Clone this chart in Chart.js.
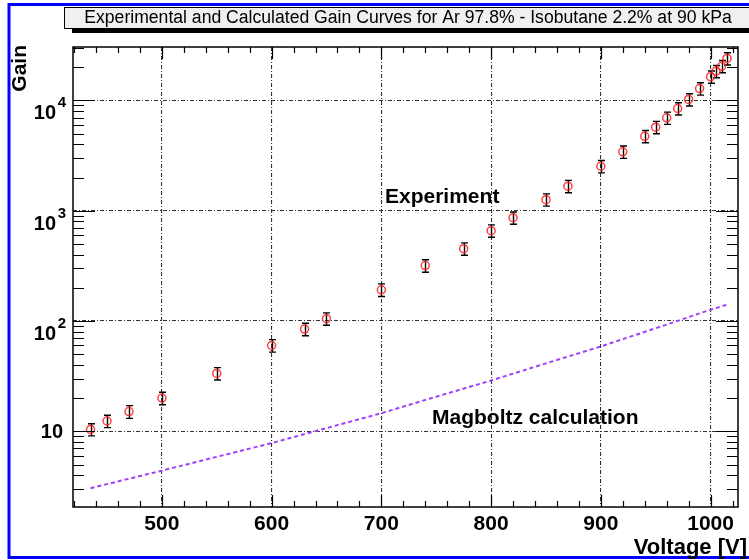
<!DOCTYPE html>
<html>
<head>
<meta charset="utf-8">
<script src="https://cdn.jsdelivr.net/npm/chart.js@4.4.1/dist/chart.umd.min.js"></script>
<style>
  html, body { margin: 0; padding: 0; background: #fff; }
  #wrap { width: 749px; height: 560px; position: relative; }
</style>
</head>
<body>
<div id="wrap"><canvas id="c" width="749" height="560"></canvas></div>
<script>
// Measured gain vs. voltage (Ar 97.8% / isobutane 2.2%, 90 kPa)
const voltages = [435, 450, 470, 500, 550, 600, 630, 650, 700, 740, 775, 800, 820, 850, 870,
                  900, 920, 940, 950, 960, 970, 980, 990, 1000, 1005, 1010, 1015];
const gains = [10.4, 12.4, 15.1, 20.0, 33.5, 60, 84.5, 105, 192, 318, 453, 659, 865, 1260, 1670,
               2530, 3420, 4730, 5720, 6950, 8450, 10200, 12800, 16400, 18400, 20400, 24000];
const gainErrors = [1.3, 1.6, 2.0, 2.6, 4.3, 7.8, 11, 13.5, 25, 41, 58, 85, 110, 160, 215,
                    325, 440, 600, 730, 890, 1080, 1300, 1640, 2100, 2350, 2600, 3050];

// Magboltz simulation
const magVoltages = [435, 450, 500, 550, 600, 650, 700, 750, 800, 850, 900, 950, 1000, 1015];
const magGains = [3.05, 3.32, 4.40, 5.87, 7.82, 10.7, 14.6, 20.6, 28.9, 41.3, 58.8, 86.0, 126.6, 140.6];

// Axis ticks
const xTickValues = [500, 600, 700, 800, 900, 1000];
const yExponents = [1, 2, 3, 4];

const titleText = 'Experimental and Calculated Gain Curves for Ar 97.8% - Isobutane 2.2% at 90 kPa';
const xTitle = 'Voltage [V]';
const yTitle = 'Gain';
const expLabel = 'Experiment';
const magLabel = 'Magboltz calculation';

const FONT = '"Liberation Sans", Arial, Helvetica, sans-serif';

// ROOT-style canvas decoration: title box, frame, inward ticks, labels, error bars
const rootStyle = {
  id: 'rootStyle',
  beforeDraw(chart) {
    const ctx = chart.ctx;
    ctx.save();
    ctx.fillStyle = '#fff';
    ctx.fillRect(0, 0, chart.width, chart.height);
    // blue pad border
    ctx.strokeStyle = '#0000ff';
    ctx.lineWidth = 3;
    ctx.strokeRect(9, 4.5, 760, 553);
    // title box with shadow
    ctx.fillStyle = '#000';
    ctx.fillRect(72, 28, 690, 5);
    ctx.fillStyle = '#f0f0f0';
    ctx.fillRect(64.5, 7.5, 690, 21);
    ctx.strokeStyle = '#000';
    ctx.lineWidth = 1;
    ctx.strokeRect(64.5, 7.5, 690, 21);
    ctx.fillStyle = '#000';
    ctx.font = '17.6px ' + FONT;
    ctx.textAlign = 'center';
    ctx.textBaseline = 'alphabetic';
    ctx.fillText(titleText, 408, 23);
    ctx.restore();
  },
  beforeDatasetsDraw(chart) {
    const ctx = chart.ctx;
    const xs = chart.scales.x, ys = chart.scales.y;
    ctx.save();
    ctx.strokeStyle = '#000';
    ctx.lineWidth = 1.4;
    voltages.forEach((v, i) => {
      const px = Math.round(xs.getPixelForValue(v)) + 0.5;
      const top = ys.getPixelForValue(gains[i] + gainErrors[i]);
      const bot = ys.getPixelForValue(gains[i] - gainErrors[i]);
      ctx.beginPath();
      ctx.moveTo(px, top); ctx.lineTo(px, bot);
      ctx.moveTo(px - 3.5, top); ctx.lineTo(px + 3.5, top);
      ctx.moveTo(px - 3.5, bot); ctx.lineTo(px + 3.5, bot);
      ctx.stroke();
    });
    ctx.restore();
  },
  afterDraw(chart) {
    const ctx = chart.ctx;
    const a = chart.chartArea;
    const xs = chart.scales.x, ys = chart.scales.y;
    ctx.save();
    ctx.strokeStyle = '#000';
    ctx.lineWidth = 1.5;
    ctx.strokeRect(a.left, a.top, a.right - a.left, a.bottom - a.top);

    // x ticks, bottom and top, pointing inward
    ctx.lineWidth = 1.2;
    ctx.beginPath();
    for (let v = 420; v <= xs.max; v += 20) {
      if (v < xs.min) continue;
      const px = Math.round(xs.getPixelForValue(v)) + 0.5;
      const len = (v % 100 === 0) ? 12 : 6;
      ctx.moveTo(px, a.bottom); ctx.lineTo(px, a.bottom - len);
      ctx.moveTo(px, a.top); ctx.lineTo(px, a.top + len);
    }
    // y ticks, left and right
    for (let e = 0; e <= 4; e++) {
      for (let m = 1; m <= 9; m++) {
        const val = m * Math.pow(10, e);
        if (val < ys.min || val > ys.max) continue;
        const py = Math.round(ys.getPixelForValue(val)) + 0.5;
        const len = m === 1 ? 22 : 11;
        ctx.moveTo(a.left, py); ctx.lineTo(a.left + len, py);
        ctx.moveTo(a.right, py); ctx.lineTo(a.right - len, py);
      }
    }
    ctx.stroke();

    // y tick labels 10, 10^2, 10^3, 10^4
    ctx.fillStyle = '#000';
    yExponents.forEach(e => {
      const py = ys.getPixelForValue(Math.pow(10, e));
      if (e === 1) {
        ctx.font = 'bold 20px ' + FONT;
        ctx.textAlign = 'right';
        ctx.textBaseline = 'middle';
        ctx.fillText('10', 63, py + 1);
      } else {
        ctx.font = 'bold 15px ' + FONT;
        ctx.textAlign = 'right';
        ctx.textBaseline = 'alphabetic';
        ctx.fillText(String(e), 66, py + 7);
        ctx.font = 'bold 20px ' + FONT;
        ctx.fillText('10', 56, py + 19);
      }
    });

    // axis titles
    ctx.font = 'bold 22px ' + FONT;
    ctx.textAlign = 'right';
    ctx.textBaseline = 'alphabetic';
    ctx.fillText(xTitle, 747, 554);
    ctx.save();
    ctx.translate(26, 45);
    ctx.rotate(-Math.PI / 2);
    ctx.font = 'bold 21px ' + FONT;
    ctx.textAlign = 'right';
    ctx.fillText(yTitle, 0, 0);
    ctx.restore();

    // curve labels
    ctx.font = 'bold 21px ' + FONT;
    ctx.textAlign = 'left';
    ctx.fillText(expLabel, 385, 203);
    ctx.fillText(magLabel, 432, 424);
    ctx.restore();
  }
};

const gridDash = [4, 2, 1, 2];

new Chart(document.getElementById('c').getContext('2d'), {
  type: 'scatter',
  data: {
    datasets: [
      {
        label: expLabel,
        data: voltages.map((v, i) => ({ x: v, y: gains[i] })),
        showLine: false,
        pointStyle: 'circle',
        pointRadius: 4,
        pointBorderWidth: 1.5,
        pointBorderColor: 'rgba(255,30,30,0.85)',
        pointBackgroundColor: 'rgba(0,0,0,0)',
        order: 1
      },
      {
        label: magLabel,
        data: magVoltages.map((v, i) => ({ x: v, y: magGains[i] })),
        showLine: true,
        borderColor: '#a040ff',
        borderWidth: 2,
        borderDash: [4, 3],
        pointRadius: 0,
        fill: false,
        order: 2
      }
    ]
  },
  options: {
    responsive: false,
    animation: false,
    devicePixelRatio: 1,
    layout: { padding: { left: 0, right: 11, top: 47, bottom: 0 } },
    plugins: {
      legend: { display: false },
      title: { display: false },
      tooltip: { enabled: false }
    },
    scales: {
      x: {
        type: 'linear',
        min: 419,
        max: 1025,
        afterBuildTicks: s => { s.ticks = xTickValues.map(v => ({ value: v })); },
        afterFit: s => { s.height = 53; },
        grid: { color: '#333', lineWidth: 1.1, drawTicks: false },
        border: { display: false, dash: gridDash },
        ticks: {
          autoSkip: false,
          maxRotation: 0,
          padding: 5,
          color: '#000',
          font: { family: FONT, size: 21, weight: 'bold' },
          callback: v => String(v)
        }
      },
      y: {
        type: 'logarithmic',
        min: 2.06,
        max: 30500,
        afterBuildTicks: s => { s.ticks = yExponents.map(e => ({ value: Math.pow(10, e) })); },
        afterFit: s => { s.width = 73; },
        grid: { color: '#333', lineWidth: 1.1, drawTicks: false },
        border: { display: false, dash: gridDash },
        ticks: { display: false }
      }
    }
  },
  plugins: [rootStyle]
});
</script>
</body>
</html>
